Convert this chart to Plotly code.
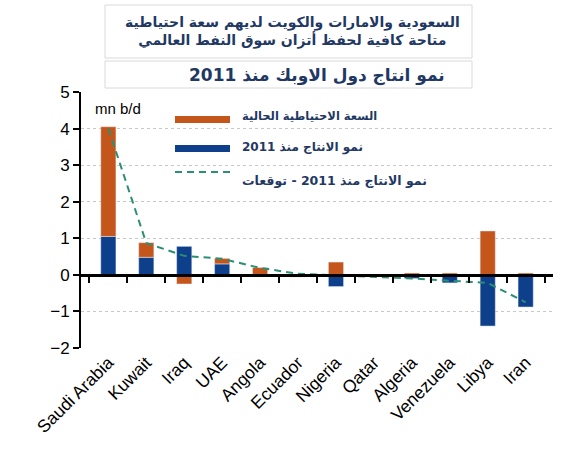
import plotly.graph_objects as go

countries = ["Saudi Arabia", "Kuwait", "Iraq", "UAE", "Angola", "Ecuador",
             "Nigeria", "Qatar", "Algeria", "Venezuela", "Libya", "Iran"]
growth_since_2011 = [1.05, 0.48, 0.78, 0.30, -0.05, -0.01, -0.32, -0.03, -0.10, -0.22, -1.40, -0.88]
spare_capacity = [3.00, 0.40, -0.25, 0.15, 0.20, -0.05, 0.35, 0.02, 0.05, 0.05, 1.20, 0.05]
growth_expected = [4.0, 0.87, 0.52, 0.44, 0.19, 0.03, -0.01, -0.05, -0.10, -0.16, -0.22, -0.75]

legend_labels = ["السعة الاحتياطية الحالية", "نمو الانتاج منذ 2011", "نمو الانتاج منذ 2011 - توقعات"]
title_lines = ["السعودية والامارات والكويت لديهم سعة احتياطية",
               "متاحة كافية لحفظ أتزان سوق النفط العالمي",
               "نمو انتاج دول الاوبك منذ 2011"]

ORANGE = "#C5561B"
BLUE = "#0D3F8A"
TEAL = "#2A8F74"
NAVY = "#1F3864"
AR_FONT = "DejaVu Sans"

fig = go.Figure()
fig.add_trace(go.Bar(x=countries, y=growth_since_2011, marker_color=BLUE, width=0.4,
                     name=legend_labels[1], showlegend=False))
fig.add_trace(go.Bar(x=countries, y=spare_capacity, marker_color=ORANGE, width=0.4,
                     name=legend_labels[0], showlegend=False))
fig.add_trace(go.Scatter(x=countries, y=growth_expected, mode="lines",
                         line=dict(color=TEAL, width=2, dash="7px,5px"),
                         name=legend_labels[2], showlegend=False))
# invisible trace to carry the zero-line axis with boundary ticks
fig.add_trace(go.Scatter(x=countries, y=[0] * len(countries), xaxis="x2", mode="markers",
                         marker=dict(opacity=0), hoverinfo="skip", showlegend=False))

fig.update_layout(
    width=574, height=450,
    margin=dict(l=81, r=21, t=92, b=102),
    paper_bgcolor="white", plot_bgcolor="white",
    barmode="relative", bargap=0.6,
    font=dict(family="Liberation Sans, Arial", color="black"),
    xaxis=dict(type="category", showline=False, ticks="", showgrid=False,
               tickangle=-45, tickfont=dict(size=17.5, color="black"), zeroline=False),
    xaxis2=dict(type="category", overlaying="x", matches="x", anchor="free",
                position=2 / 7, showline=True, linecolor="black", linewidth=2.5,
                ticks="outside", tickson="boundaries", ticklen=6, tickwidth=2,
                tickcolor="black", showticklabels=False, showgrid=False, side="bottom"),
    yaxis=dict(range=[-2, 5], dtick=1, showline=True, linecolor="black", linewidth=2,
               ticks="outside", ticklen=6, tickwidth=2, tickcolor="black",
               showgrid=True, gridcolor="#c8c8c8", griddash="dot", gridwidth=1,
               zeroline=False, tickfont=dict(size=17, color="black")),
)


def px_x(p):
    return (p - 81) / 472


def px_y(p):
    return (348 - p) / 256


shapes = []
shapes.append(dict(type="rect", xref="paper", yref="paper",
                   x0=px_x(105), x1=px_x(472), y0=px_y(58), y1=px_y(5),
                   line=dict(color="#d9d9d9", width=1), fillcolor="white", layer="above"))
shapes.append(dict(type="rect", xref="paper", yref="paper",
                   x0=px_x(105), x1=px_x(472), y0=px_y(88), y1=px_y(61),
                   line=dict(color="#d9d9d9", width=1), fillcolor="white", layer="above"))
shapes.append(dict(type="rect", xref="paper", yref="paper",
                   x0=px_x(175), x1=px_x(230), y0=px_y(123), y1=px_y(116),
                   line=dict(width=0), fillcolor=ORANGE))
shapes.append(dict(type="rect", xref="paper", yref="paper",
                   x0=px_x(175), x1=px_x(230), y0=px_y(152), y1=px_y(145),
                   line=dict(width=0), fillcolor=BLUE))
shapes.append(dict(type="line", xref="paper", yref="paper",
                   x0=px_x(175), x1=px_x(230), y0=px_y(172), y1=px_y(172),
                   line=dict(color=TEAL, width=2, dash="7px,5px")))
fig.update_layout(shapes=shapes)

annotations = []
annotations.append(dict(text=title_lines[0] + "<br>" + title_lines[1], xref="paper", yref="paper",
                        x=px_x(292), y=px_y(31), xanchor="center", yanchor="middle", showarrow=False,
                        font=dict(family=AR_FONT, size=14, color=NAVY, weight="bold")))
annotations.append(dict(text=title_lines[2], xref="paper", yref="paper",
                        x=px_x(317), y=px_y(75), xanchor="center", yanchor="middle", showarrow=False,
                        font=dict(family=AR_FONT, size=17, color=NAVY, weight="bold")))
annotations.append(dict(text="mn b/d", xref="paper", yref="paper",
                        x=px_x(118), y=px_y(108), xanchor="center", yanchor="middle", showarrow=False,
                        font=dict(size=15, color="black")))
for lbl, py, sz in zip(legend_labels, [116, 147, 180], [11.5, 12, 12.5]):
    annotations.append(dict(text=lbl, xref="paper", yref="paper", x=px_x(240), y=px_y(py),
                            xanchor="left", yanchor="middle", showarrow=False,
                            font=dict(family=AR_FONT, size=sz, color=NAVY, weight="bold")))
fig.update_layout(annotations=annotations)

fig.write_html("out.html")
